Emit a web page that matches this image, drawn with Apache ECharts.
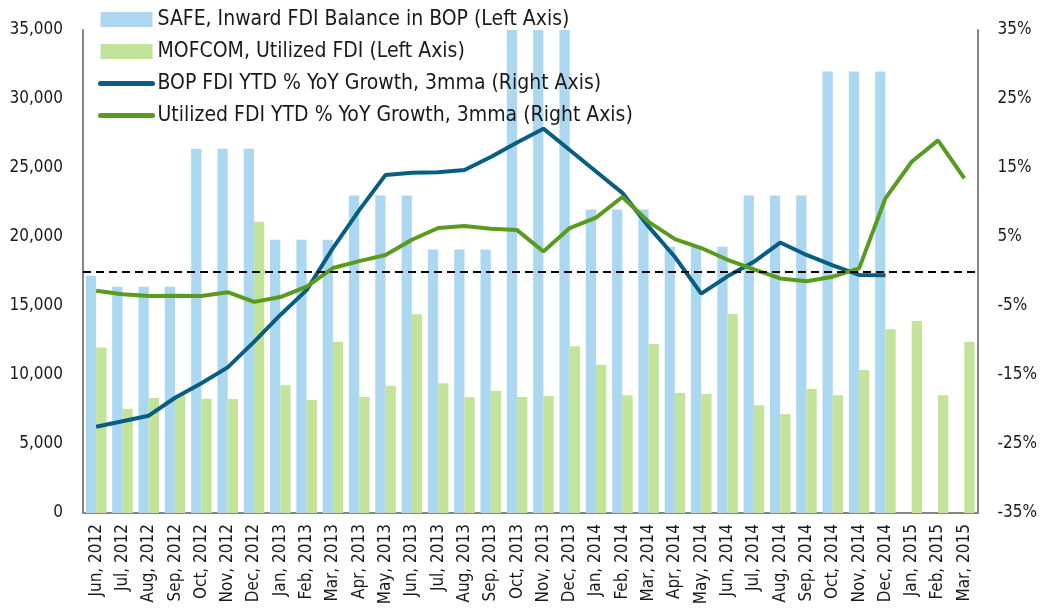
<!DOCTYPE html>
<html>
<head>
<meta charset="utf-8">
<script src="https://cdn.jsdelivr.net/npm/echarts@6/dist/echarts.min.js"></script>
<style>
html, body { margin: 0; padding: 0; background: #fff; }
#main { width: 1040px; height: 608px; }
</style>
</head>
<body>
<div id="main"></div>
<script>
var months = ['Jun, 2012', 'Jul, 2012', 'Aug, 2012', 'Sep, 2012', 'Oct, 2012', 'Nov, 2012', 'Dec, 2012',
	'Jan, 2013', 'Feb, 2013', 'Mar, 2013', 'Apr, 2013', 'May, 2013', 'Jun, 2013', 'Jul, 2013', 'Aug, 2013',
	'Sep, 2013', 'Oct, 2013', 'Nov, 2013', 'Dec, 2013', 'Jan, 2014', 'Feb, 2014', 'Mar, 2014', 'Apr, 2014',
	'May, 2014', 'Jun, 2014', 'Jul, 2014', 'Aug, 2014', 'Sep, 2014', 'Oct, 2014', 'Nov, 2014', 'Dec, 2014',
	'Jan, 2015', 'Feb, 2015', 'Mar, 2015'];

var safeBalance = [17200, 16400, 16400, 16400, 26400, 26400, 26400,
	19800, 19800, 19800, 23000, 23000, 23000, 19100, 19100,
	19100, 35000, 35000, 35000, 22000, 22000, 22000, 19300,
	19300, 19300, 23000, 23000, 23000, 32000, 32000, 32000,
	null, null, null];

var mofcomFdi = [12000, 7560, 8330, 8550, 8280, 8260, 21100,
	9250, 8190, 12410, 8430, 9230, 14400, 9400, 8380,
	8840, 8400, 8480, 12080, 10750, 8530, 12250, 8700,
	8620, 14420, 7800, 7170, 8990, 8530, 10360, 13310,
	13910, 8530, 12410];

var bopGrowth = [-22.5, -21.7, -20.9, -18.3, -16.2, -13.9, -10.2,
	-6.3, -2.7, 3.4, 8.9, 14.0, 14.3, 14.4, 14.7,
	16.6, 18.7, 20.7, 17.6, 14.5, 11.4, 6.5, 2.1,
	-3.2, -0.7, 1.4, 4.2, 2.4, 0.9, -0.5, -0.55,
	null, null, null];

var utilizedGrowth = [-2.8, -3.3, -3.55, -3.5, -3.55, -3.0, -4.4,
	-3.7, -2.2, 0.5, 1.5, 2.4, 4.6, 6.3, 6.6,
	6.2, 6.0, 2.9, 6.3, 7.8, 10.8, 7.2, 4.7,
	3.4, 1.7, 0.3, -1.0, -1.4, -0.75, 0.45, 10.6,
	15.9, 19.0, 13.5];

var leftTicks = { min: 0, max: 35000, interval: 5000 };
var rightTicks = { min: -35, max: 35, interval: 10 };

var font = "'Liberation Sans Narrow', 'DejaVu Sans Condensed', 'Roboto', sans-serif";
var axisGray = '#858585';

var chart = echarts.init(document.getElementById('main'));

var option = {
	animation: false,
	textStyle: { fontFamily: font },
	color: ['#acd7f0', '#c3e29a', '#075e80', '#5a9a1d'],
	legend: {
		orient: 'vertical',
		left: 93,
		top: 4,
		itemWidth: 52,
		itemHeight: 15,
		itemGap: 11,
		textStyle: { fontFamily: font, fontSize: 21, color: '#1a1a1a' },
		data: [
			{ name: 'SAFE, Inward FDI Balance in BOP (Left Axis)', icon: 'rect' },
			{ name: 'MOFCOM, Utilized FDI (Left Axis)', icon: 'rect' },
			{ name: 'BOP FDI YTD % YoY Growth, 3mma (Right Axis)', itemStyle: { opacity: 0 }, lineStyle: { width: 5, cap: 'round' } },
			{ name: 'Utilized FDI YTD % YoY Growth, 3mma (Right Axis)', itemStyle: { opacity: 0 }, lineStyle: { width: 5, cap: 'round' } }
		]
	},
	grid: {
		left: 83,
		right: 60,
		top: 30,
		bottom: 95
	},
	xAxis: {
		type: 'category',
		data: months,
		axisTick: { show: false },
		axisLine: { lineStyle: { color: axisGray, width: 2 } },
		axisLabel: {
			rotate: 90,
			interval: 0,
			margin: 11,
			fontFamily: font,
			fontSize: 17,
			color: '#1a1a1a'
		}
	},
	yAxis: [{
		type: 'value',
		min: leftTicks.min,
		max: leftTicks.max,
		interval: leftTicks.interval,
		splitLine: { show: false },
		axisTick: { show: false },
		axisLine: { show: true, lineStyle: { color: axisGray, width: 2 } },
		axisLabel: {
			margin: 20,
			fontFamily: font,
			fontSize: 17,
			color: '#1a1a1a',
			formatter: function (v) {
				return v.toString().replace(/\B(?=(\d{3})+(?!\d))/g, ',');
			}
		}
	}, {
		type: 'value',
		min: rightTicks.min,
		max: rightTicks.max,
		interval: rightTicks.interval,
		splitLine: { show: false },
		axisTick: { show: false },
		axisLine: { show: true, lineStyle: { color: axisGray, width: 2 } },
		axisLabel: {
			margin: 20,
			fontFamily: font,
			fontSize: 17,
			color: '#1a1a1a',
			formatter: '{value}%'
		}
	}],
	series: [{
		name: 'SAFE, Inward FDI Balance in BOP (Left Axis)',
		type: 'bar',
		barGap: 0,
		barCategoryGap: '22%',
		data: safeBalance
	}, {
		name: 'MOFCOM, Utilized FDI (Left Axis)',
		type: 'bar',
		barGap: 0,
		barCategoryGap: '22%',
		data: mofcomFdi
	}, {
		name: 'BOP FDI YTD % YoY Growth, 3mma (Right Axis)',
		type: 'line',
		yAxisIndex: 1,
		symbol: 'none',
		lineStyle: { width: 4 },
		data: bopGrowth
	}, {
		name: 'Utilized FDI YTD % YoY Growth, 3mma (Right Axis)',
		type: 'line',
		yAxisIndex: 1,
		symbol: 'none',
		lineStyle: { width: 4 },
		data: utilizedGrowth,
		markLine: {
			silent: true,
			symbol: 'none',
			label: { show: false },
			lineStyle: { color: '#000', type: [8, 5], width: 2 },
			data: [{ yAxis: 0 }]
		}
	}]
};

chart.setOption(option);
</script>
</body>
</html>
